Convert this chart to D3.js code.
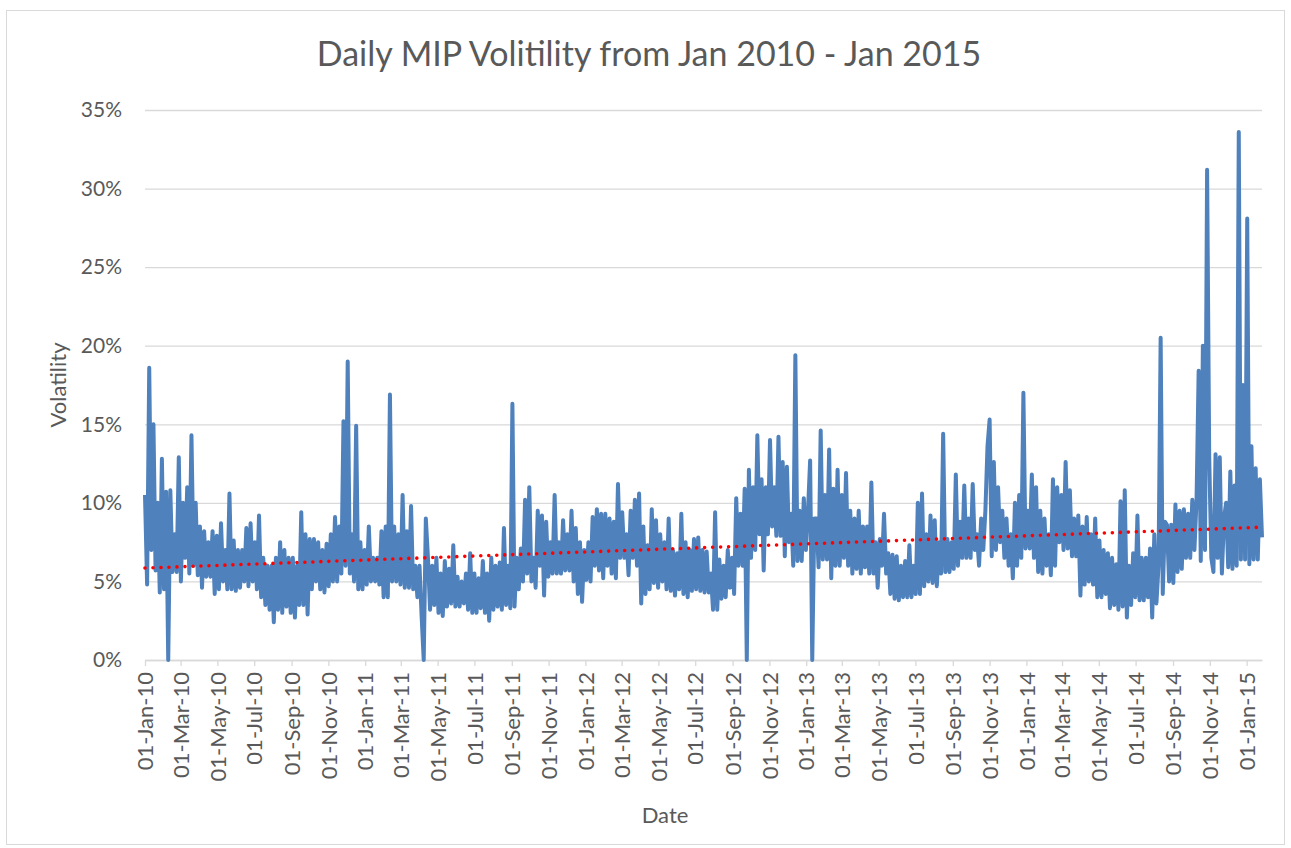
<!DOCTYPE html>
<html lang="en">
<head>
<meta charset="utf-8">
<title>Daily MIP Volitility</title>
<script src="https://cdn.jsdelivr.net/npm/d3@7"></script>
<style>
  body { margin: 0; background: #fff; }
  svg { display: block; font-family: Lato, "Liberation Sans", sans-serif; }
</style>
</head>
<body>
<svg id="chart" width="1291" height="848"></svg>
<script>
var vol2010 = [10.5,4.8, 18.6,7.0, 15.0,5.7, 10.0,4.3, 12.8,4.5, 10.7,0.0, 10.8,5.6, 8.0,5.6, 12.9,5.0, 10.0,6.5,
  11.0,5.5, 14.3,6.0, 10.0,5.4, 8.5,4.6, 8.2,5.3, 7.5,5.3, 8.2,4.2, 7.9,4.5, 8.7,5.0, 7.0,4.5,
  10.6,4.5, 7.6,4.4, 7.0,4.6, 7.0,5.0, 8.4,4.7, 8.7,5.0, 7.5,4.5, 9.2,4.0, 6.5,3.5, 6.0,3.2,
  6.0,2.4, 6.5,3.2, 7.5,3.0, 7.0,3.4, 6.5,3.0, 6.5,2.7, 6.0,3.5, 9.4,3.5, 8.0,2.9, 7.7,4.5,
  7.7,5.0, 7.5,4.5, 7.0,4.3, 7.4,4.7, 8.0,5.0, 9.1,5.0, 8.5,5.5, 15.2,6.0, 19.0,5.5, 8.0,5.0,
  14.9,4.5, 7.5,4.5];
var vol2011 = [7.0,4.8, 8.5,5.0, 6.5,5.0, 6.5,4.8, 8.2,4.0, 8.5,4.0, 16.9,5.0, 8.5,5.0, 8.0,4.8, 10.5,4.6,
  8.2,4.6, 9.8,4.5, 6.0,4.0, 6.0,2.8, 0.0,9.0, 6.5,3.2, 6.0,3.5, 6.5,3.0, 5.5,2.8, 6.3,3.4,
  5.8,3.6, 7.3,3.4, 5.3,3.4, 5.0,3.6, 5.5,3.2, 6.8,3.0, 5.5,3.0, 5.2,3.3, 6.3,3.0, 5.5,2.5,
  6.5,3.2, 6.0,3.4, 6.2,3.2, 8.4,3.5, 6.0,3.3, 16.3,3.4, 6.5,4.5, 7.1,5.0, 10.2,5.5, 11.0,5.0,
  6.5,4.6, 9.5,6.0, 9.2,4.1, 8.8,5.3, 7.5,5.5, 10.5,5.5, 7.5,5.5, 8.9,5.7, 8.0,5.7, 9.5,5.0,
  8.4,4.2, 7.5,3.7];
var vol2012 = [7.0,5.1, 7.5,5.0, 9.1,6.0, 9.6,5.7, 9.3,5.2, 9.3,6.0, 9.0,5.5, 8.8,5.2, 11.2,6.5, 9.4,6.5,
  8.0,5.4, 9.5,6.5, 10.2,6.0, 10.6,3.6, 8.5,4.2, 7.3,4.5, 9.6,4.9, 8.9,4.6, 8.0,5.0, 7.5,4.5,
  9.0,4.4, 7.0,4.1, 6.8,4.5, 9.3,4.2, 7.5,4.0, 7.0,4.4, 7.7,4.5, 7.8,4.4, 7.0,4.3, 6.9,4.3,
  5.5,3.2, 9.4,3.2, 6.4,3.9, 6.0,4.0, 7.0,4.6, 6.5,4.2, 10.3,6.0, 9.3,6.0, 10.9,0.0, 12.1,6.5,
  11.0,7.0, 14.3,8.0, 11.5,5.7, 11.0,8.0, 14.0,8.5, 11.0,7.9, 14.2,7.9, 12.6,6.6, 12.3,7.5, 9.3,6.0,
  19.4,6.3, 9.5,6.3];
var vol2013 = [10.3,7.0, 9.5,12.7, 0.0,9.0, 9.0,5.9, 14.6,6.4, 10.5,6.4, 13.4,5.2, 10.9,6.0, 12.1,6.0, 10.5,6.5,
  11.9,6.0, 9.5,5.5, 9.0,5.8, 9.5,5.5, 8.5,5.9, 8.5,5.5, 11.3,5.5, 7.5,4.6, 7.7,6.0, 9.3,5.5,
  6.8,4.2, 6.7,3.9, 6.6,3.8, 6.0,4.0, 6.3,4.0, 7.3,4.0, 6.0,4.2, 10.0,4.2, 10.6,4.7, 8.0,5.0,
  9.2,4.9, 8.9,4.7, 7.5,5.5, 14.4,5.6, 7.7,5.6, 7.5,5.8, 11.8,6.0, 8.8,6.5, 11.1,6.5, 9.0,6.5,
  11.2,7.0, 8.0,6.0, 9.0,7.0, 9.5,13.6, 15.3,6.6, 12.6,7.0, 11.0,7.5, 9.5,6.5, 9.0,6.0, 8.0,5.2,
  10.0,6.0, 10.5,6.5];
var vol2014 = [17.0,7.1, 9.5,7.1, 11.8,6.5, 11.0,5.6, 9.5,5.5, 9.0,6.0, 8.0,5.4, 11.5,6.0, 11.0,7.5, 10.5,7.0,
  12.6,7.1, 10.8,6.6, 9.0,6.6, 9.2,4.1, 8.5,4.8, 9.1,5.0, 8.0,4.8, 9.0,4.0, 7.6,4.0, 7.0,4.2,
  6.8,3.3, 6.5,3.5, 6.1,3.2, 10.1,3.4, 10.8,2.7, 6.0,3.5, 6.8,4.0, 9.2,3.8, 6.5,3.8, 6.5,4.0,
  7.1,2.7, 8.0,3.6, 6.0,20.5, 4.2,8.8, 8.6,5.0, 8.6,4.9, 9.9,5.6, 9.5,5.8, 9.6,6.5, 9.3,6.5,
  10.2,7.0, 10.2,18.4, 6.3,20.0, 7.0,31.2, 12.9,6.5, 5.6,13.1, 6.5,12.9, 5.5,9.0, 10.0,5.9, 12.0,5.8,
  11.1,6.0, 33.6,6.4];
var vol2015 = [17.5,6.4, 28.1,6.1, 13.6,6.4, 12.2,6.4, 11.5,7.8];

// red dotted linear trend, value at first and last date
var trendEnds = [5.85, 8.45];
var yTicks = [0, 5, 10, 15, 20, 25, 30, 35];

var vols = vol2010.concat(vol2011, vol2012, vol2013, vol2014, vol2015);
var start = new Date(Date.UTC(2010, 0, 1));
var stepMs = 3.5 * 864e5;
var data = vols.map((v, i) => ({ date: new Date(start.getTime() + i * stepMs), v: v }));
var end = data[data.length - 1].date;

var svg = d3.select("#chart");
var plotL = 145, plotR = 1262, plotT = 110, plotB = 660;

svg.append("rect")
  .attr("x", 6.5).attr("y", 10.5).attr("width", 1278).attr("height", 834)
  .attr("fill", "#fff").attr("stroke", "#d9d9d9");

var x = d3.scaleUtc().domain([start, end]).range([plotL, plotR]);
var y = d3.scaleLinear().domain([0, 35]).range([plotB, plotT]);

// gridlines + y labels
var yAxis = svg.append("g")
  .attr("transform", `translate(${plotL},0)`)
  .call(d3.axisLeft(y).tickValues(yTicks).tickSize(-(plotR - plotL)).tickPadding(23)
    .tickFormat(d => d + "%"));
yAxis.attr("font-family", null).attr("font-size", null);
yAxis.select(".domain").remove();
yAxis.selectAll("line").attr("stroke", "#d9d9d9").attr("stroke-width", 1.3);
yAxis.selectAll("text").attr("fill", "#595959").style("font-size", "21px");

// date axis
var xTicks = d3.utcMonth.every(2).range(start, end);
var xAxis = svg.append("g")
  .attr("transform", `translate(0,${plotB})`)
  .call(d3.axisBottom(x).tickValues(xTicks).tickSize(6).tickSizeOuter(0)
    .tickFormat(d3.utcFormat("%d-%b-%y")));
xAxis.attr("font-family", null).attr("font-size", null);
xAxis.select(".domain").attr("stroke", "#d9d9d9").attr("stroke-width", 1.3);
xAxis.selectAll("line").attr("stroke", "#d9d9d9").attr("stroke-width", 1.3);
xAxis.selectAll("text")
  .attr("fill", "#595959").style("font-size", "22px")
  .attr("text-anchor", "end")
  .attr("transform", "rotate(-90)")
  .attr("x", -12).attr("y", 0).attr("dy", "0.35em");

// series
svg.append("path")
  .datum(data)
  .attr("fill", "none")
  .attr("stroke", "#4f81bd")
  .attr("stroke-width", 4)
  .attr("stroke-linejoin", "round")
  .attr("d", d3.line().x(d => x(d.date)).y(d => y(d.v)));

// trend
svg.append("path")
  .datum([{ date: start, v: trendEnds[0] }, { date: end, v: trendEnds[1] }])
  .attr("fill", "none")
  .attr("stroke", "#ff0000")
  .attr("stroke-width", 3.6)
  .attr("stroke-linecap", "round")
  .attr("stroke-dasharray", "0 8")
  .attr("d", d3.line().x(d => x(d.date)).y(d => y(d.v)));

// titles
svg.append("text")
  .attr("x", 649).attr("y", 66)
  .attr("text-anchor", "middle")
  .attr("fill", "#595959").style("font-size", "34px")
  .text("Daily MIP Volitility from Jan 2010 - Jan 2015");

svg.append("text")
  .attr("transform", "translate(66,385) rotate(-90)")
  .attr("text-anchor", "middle")
  .attr("fill", "#595959").style("font-size", "22px")
  .text("Volatility");

svg.append("text")
  .attr("x", 665).attr("y", 823)
  .attr("text-anchor", "middle")
  .attr("fill", "#595959").style("font-size", "22px")
  .text("Date");
</script>
</body>
</html>
